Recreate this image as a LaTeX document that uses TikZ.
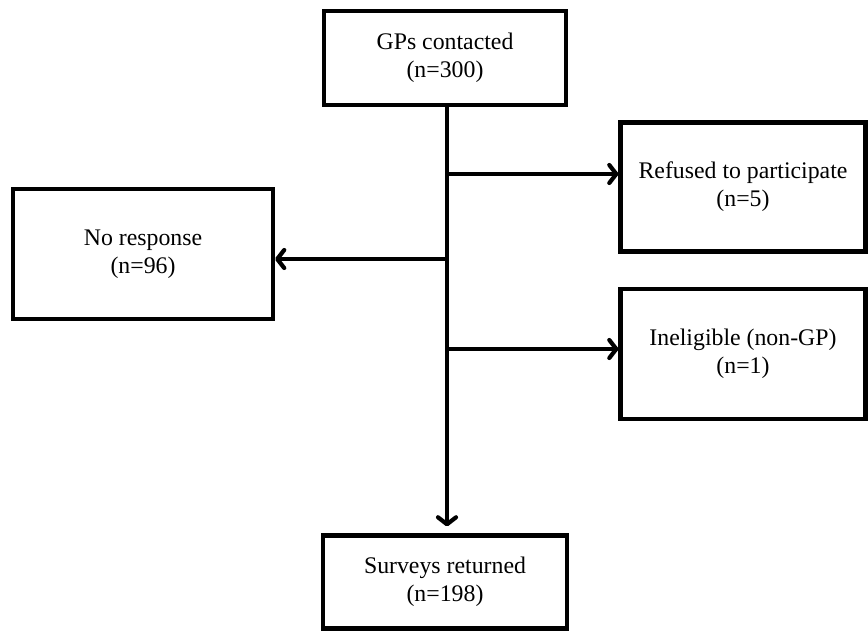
\documentclass[tikz,border=0pt]{standalone}
\usepackage{fontspec}
\setmainfont{Liberation Serif}
\usetikzlibrary{arrows.meta}

\begin{document}
\begin{tikzpicture}[
  x=1pt, y=-1pt,
  font=\fontsize{23.8}{28}\selectfont,
  >={Straight Barb[length=7pt,width=18pt,line cap=round,line join=round]},
  box/.style ={rectangle, draw, line width=4.2pt, align=center, inner sep=0pt},
  arr/.style ={->, line width=4.2pt},
]

\def\xL{143}
\def\xC{445}
\def\xR{743}
\def\xT{447}

\useasboundingbox (0,0) rectangle (868,631);

% ---------- BOXES ----------
\node[box, minimum width=242pt, minimum height=94pt]  (gps)      at (\xC,58)  {GPs contacted\\(n=300)};
\node[box, minimum width=245pt, minimum height=129pt] (refused)  at (\xR,187) {Refused to participate\\(n=5)};
\node[box, minimum width=260pt, minimum height=130pt] (noresp)   at (\xL,254) {No response\\(n=96)};
\node[box, minimum width=245pt, minimum height=130pt] (inelig)   at (\xR,354) {Ineligible (non-GP)\\(n=1)};
\node[box, minimum width=244pt, minimum height=93pt]  (returned) at (\xC,582) {Surveys returned\\(n=198)};

% ---------- JUNCTIONS ON THE TRUNK ----------
\coordinate (jref) at (\xT,174);
\coordinate (jno)  at (\xT,259);
\coordinate (jin)  at (\xT,349);

% ---------- ARROWS ----------
\draw[arr, shorten >=7pt] (gps.south -| jref) -- (returned.north -| jref);
\draw[arr] (jref) -- (jref -| refused.west);
\draw[arr] (jno)  -- (jno -| noresp.east);
\draw[arr] (jin)  -- (jin -| inelig.west);

\end{tikzpicture}
\end{document}
